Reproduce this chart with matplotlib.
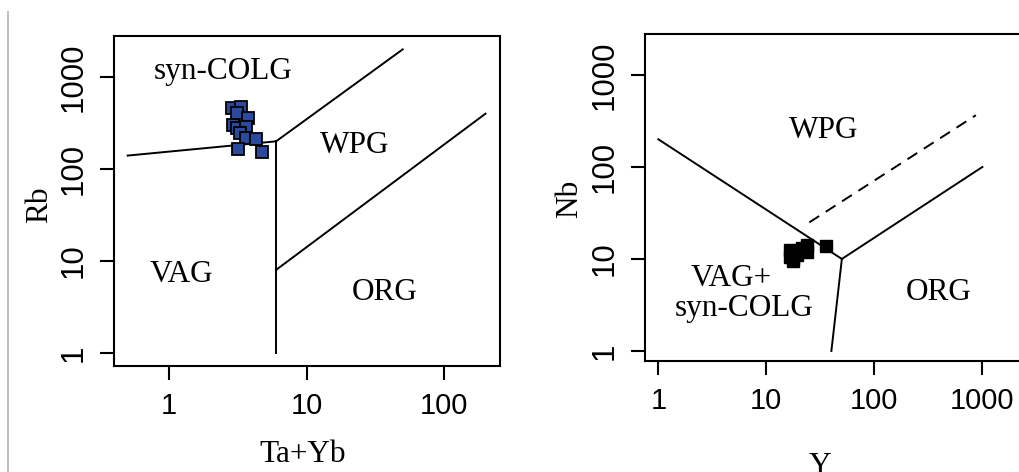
import matplotlib
matplotlib.use("Agg")
import matplotlib.pyplot as plt
from matplotlib.lines import Line2D

# Muestras: Rb vs Ta+Yb
ta_yb = [2.86, 3.34, 3.11, 3.74, 2.91, 3.14, 3.61, 3.28, 3.61, 4.29, 3.16, 4.72]
rb = [457, 475, 403, 361, 300, 277, 288, 244, 216, 212, 165, 152]

# Muestras: Nb vs Y
y_vals = [16.6, 16.6, 17.5, 19.2, 21.0, 23.8, 23.8, 18.0, 16.8, 21.5, 17.5, 35.7]
nb = [12.5, 10.5, 9.5, 11.0, 12.5, 14.2, 12.0, 11.5, 11.8, 13.0, 10.2, 13.8]

# Limites de campos (Pearce et al., 1984)
lim_rb = [
    ([0.5, 6], [140, 200]),
    ([6, 50], [200, 2000]),
    ([6, 6], [1, 200]),
    ([6, 200], [8, 400]),
]
lim_nb = [
    ([1, 50], [200, 10]),
    ([50, 1000], [10, 100]),
    ([50, 40], [10, 1]),
]
lim_nb_disc = ([25, 870], [25, 365])

ticks_rb_x = [1, 10, 100]
ticks_rb_y = [1, 10, 100, 1000]
ticks_nb_x = [1, 10, 100, 1000]
ticks_nb_y = [1, 10, 100, 1000]

SANS = "Liberation Sans"
SERIF = "Liberation Serif"

fig = plt.figure(figsize=(10.19, 4.72), dpi=100)


def preparar(ax, xt, yt, xlim, ylim):
    ax.set_xscale("log")
    ax.set_yscale("log")
    ax.set_xlim(*xlim)
    ax.set_ylim(*ylim)
    ax.minorticks_off()
    ax.set_xticks(xt)
    ax.set_xticklabels([str(t) for t in xt], family=SANS, fontsize=21)
    ax.set_yticks(yt)
    ax.set_yticklabels([str(t) for t in yt], family=SANS, fontsize=22.5,
                       rotation=90, va="center")
    for s in ax.spines.values():
        s.set_linewidth(1.5)
    ax.tick_params(direction="out", length=10, width=1.5)
    ax.tick_params(axis="x", pad=9)
    ax.tick_params(axis="y", pad=8)


# Panel izquierdo
ax1 = fig.add_axes([0.1119, 0.2246, 0.3788, 0.699])
preparar(ax1, ticks_rb_x, ticks_rb_y, (0.398, 255), (0.722, 2790))
for xs, ys in lim_rb:
    ax1.plot(xs, ys, color="black", lw=1.4)
ax1.plot(ta_yb, rb, "s", ms=8.6, mfc="#2b4a9e", mec="black", mew=1.3)
kw = dict(family=SERIF, fontsize=22.5, ha="center", va="baseline")
ax1.text(2.47, 950, "syn-COLG", **kw)
ax1.text(22.5, 149, "WPG", **kw)
ax1.text(1.24, 5.9, "VAG", **kw)
ax1.text(37.2, 3.77, "ORG", **kw)

# Panel derecho
ax2 = fig.add_axes([0.633, 0.2352, 0.3768, 0.6928])
preparar(ax2, ticks_nb_x, ticks_nb_y, (0.753, 2700), (0.778, 2790))
for xs, ys in lim_nb:
    ax2.plot(xs, ys, color="black", lw=1.4)
ax2.plot(*lim_nb_disc, color="black", lw=1.4, dashes=(6, 4))
ax2.plot(y_vals, nb, "s", ms=8.6, mfc="black", mec="black", mew=1)
ax2.text(34.0, 207, "WPG", **kw)
ax2.text(4.71, 5.09, "VAG+", **kw)
ax2.text(6.22, 2.40, "syn-COLG", **kw)
ax2.text(395, 3.58, "ORG", **kw)

# Etiquetas de ejes
W, H = 1019, 472
fig.text(303 / W, 1 - 462 / H, "Ta+Yb", family=SERIF, fontsize=22.5,
         ha="center", va="baseline")
fig.text(40 / W, 1 - 205 / H, "Rb", family=SERIF, fontsize=22.5,
         ha="center", va="center", rotation=90)
fig.text(570 / W, 1 - 199 / H, "Nb", family=SERIF, fontsize=22.5,
         ha="center", va="center", rotation=90)
fig.text(820 / W, 1 - 474 / H, "Y", family=SERIF, fontsize=22.5,
         ha="center", va="baseline")

# Borde gris a la izquierda
fig.add_artist(Line2D([8 / W, 8 / W], [0, 1 - 12 / H], color="#b5b5b5", lw=1.2))

fig.savefig("out.png", dpi=100)
